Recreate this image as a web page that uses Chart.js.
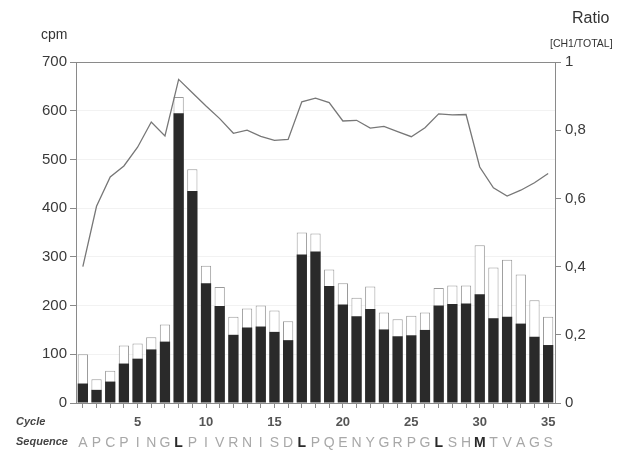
<!DOCTYPE html>
<html>
<head>
<meta charset="utf-8">
<script src="https://cdn.jsdelivr.net/npm/chart.js@4/dist/chart.umd.min.js"></script>
<style>
  html, body { margin: 0; padding: 0; background: #fff; }
  #wrap { width: 625px; height: 452px; position: relative; }
</style>
</head>
<body>
<div id="wrap"><canvas id="seqChart"></canvas></div>
<script>
// Cycle numbers and the amino acid read at each cycle
const CYCLES = [1, 2, 3, 4, 5, 6, 7, 8, 9, 10, 11, 12, 13, 14, 15, 16, 17, 18, 19, 20,
                21, 22, 23, 24, 25, 26, 27, 28, 29, 30, 31, 32, 33, 34, 35];
const SEQUENCE = ['A', 'P', 'C', 'P', 'I', 'N', 'G', 'L', 'P', 'I', 'V', 'R', 'N', 'I', 'S', 'D', 'L', 'P',
                  'Q', 'E', 'N', 'Y', 'G', 'R', 'P', 'G', 'L', 'S', 'H', 'M', 'T', 'V', 'A', 'G', 'S'];
const HIGHLIGHT = [8, 17, 27, 30];

// cpm per cycle (total = open bar, CH1 = filled bar)
const TOTAL_CPM = [100, 49, 66, 118, 122, 135, 161, 628, 480, 282, 238, 177, 194, 200, 190, 168, 350, 348,
                   274, 246, 216, 239, 186, 172, 179, 186, 236, 241, 241, 324, 278, 294, 264, 211, 177];
const CH1_CPM = [40, 27, 44, 81, 91, 110, 126, 595, 435, 246, 199, 140, 155, 157, 146, 129, 305, 311,
                 240, 202, 178, 193, 151, 137, 139, 150, 200, 203, 204, 223, 174, 177, 163, 136, 119];

// CH1 / TOTAL ratio (right axis)
const RATIO = [0.40, 0.577, 0.663, 0.695, 0.750, 0.824, 0.783, 0.949, 0.910, 0.871, 0.834, 0.791, 0.800,
               0.782, 0.770, 0.773, 0.883, 0.894, 0.881, 0.827, 0.829, 0.806, 0.811, 0.796, 0.781, 0.807,
               0.848, 0.845, 0.846, 0.692, 0.631, 0.607, 0.624, 0.646, 0.673];

const CPM_TICKS = [0, 100, 200, 300, 400, 500, 600, 700];
const RATIO_TICKS = [0, 0.2, 0.4, 0.6, 0.8, 1];

const FONT = 'Liberation Sans, Arial, sans-serif';
const AXIS = '#8a8a8a';

// extra labels around the plot
const labelsPlugin = {
    id: 'labels',
    afterDraw(chart) {
        const c = chart.ctx;
        c.save();
        c.fillStyle = '#333';
        c.textBaseline = 'middle';
        c.textAlign = 'left';
        c.font = '14px ' + FONT;
        c.fillText('cpm', 41, 35);
        c.font = '16px ' + FONT;
        c.fillText('Ratio', 572, 19);
        c.font = '10.5px ' + FONT;
        c.fillText('[CH1/TOTAL]', 550, 44);
        c.font = 'italic bold 11px ' + FONT;
        c.fillStyle = '#444';
        c.fillText('Cycle', 16, 422);
        c.fillText('Sequence', 16, 442);
        c.restore();
    }
};

new Chart(document.getElementById('seqChart'), {
    type: 'bar',
    data: {
        labels: CYCLES,
        datasets: [{
            type: 'line',
            label: 'Ratio',
            data: RATIO,
            yAxisID: 'y1',
            borderColor: '#777',
            borderWidth: 1.3,
            pointRadius: 0,
            tension: 0,
            fill: false
        }, {
            label: 'CH1',
            data: CH1_CPM,
            yAxisID: 'y',
            backgroundColor: '#2a2a2a',
            borderColor: '#2a2a2a',
            borderWidth: 0,
            grouped: false,
            categoryPercentage: 0.75,
            barPercentage: 1
        }, {
            label: 'Total',
            data: TOTAL_CPM,
            yAxisID: 'y',
            backgroundColor: '#ffffff',
            borderColor: '#9a9a9a',
            borderWidth: 1,
            grouped: false,
            categoryPercentage: 0.75,
            barPercentage: 1
        }]
    },
    options: {
        responsive: true,
        maintainAspectRatio: false,
        animation: false,
        layout: { padding: { top: 62, left: 0, right: 0, bottom: 0 } },
        plugins: {
            legend: { display: false },
            tooltip: { enabled: false }
        },
        scales: {
            x: {
                position: 'bottom',
                offset: true,
                border: { color: AXIS },
                grid: { drawOnChartArea: false, drawTicks: true, tickLength: 5, tickColor: AXIS, offset: false },
                ticks: {
                    autoSkip: false,
                    maxRotation: 0,
                    padding: 7,
                    color: '#555',
                    font: { family: FONT, size: 13, weight: 'bold' },
                    callback: (v, i) => (CYCLES[i] % 5 === 0 ? String(CYCLES[i]) : '')
                },
                afterFit: s => { s.height = 28; }
            },
            x2: {
                type: 'category',
                position: 'bottom',
                labels: SEQUENCE,
                offset: true,
                border: { display: false },
                grid: { display: false },
                ticks: {
                    autoSkip: false,
                    maxRotation: 0,
                    padding: -4,
                    color: ctx => (HIGHLIGHT.includes(ctx.index + 1) ? '#2a2a2a' : '#a8a8a8'),
                    font: ctx => ({
                        family: FONT,
                        size: 14,
                        weight: HIGHLIGHT.includes(ctx.index + 1) ? 'bold' : 'normal'
                    })
                },
                afterFit: s => { s.height = 21; }
            },
            y: {
                position: 'left',
                min: 0,
                max: 700,
                border: { color: AXIS },
                grid: {
                    color: ctx => (ctx.tick && ctx.tick.value === 700 ? AXIS : 'rgba(0,0,0,0.05)'),
                    tickColor: AXIS,
                    tickLength: 6
                },
                afterBuildTicks: s => { s.ticks = CPM_TICKS.map(v => ({ value: v })); },
                ticks: {
                    padding: 3,
                    color: '#3a3a3a',
                    font: { family: FONT, size: 15 }
                },
                afterFit: s => { s.width = 76; }
            },
            y1: {
                position: 'right',
                min: 0,
                max: 1,
                border: { color: AXIS },
                grid: { drawOnChartArea: false, tickColor: AXIS, tickLength: 6 },
                afterBuildTicks: s => { s.ticks = RATIO_TICKS.map(v => ({ value: v })); },
                ticks: {
                    padding: 4,
                    color: '#3a3a3a',
                    font: { family: FONT, size: 15 },
                    callback: v => (v === 0 || v === 1 ? String(v) : v.toFixed(1).replace('.', ','))
                },
                afterFit: s => { s.width = 70; }
            }
        }
    },
    plugins: [labelsPlugin]
});
</script>
</body>
</html>
